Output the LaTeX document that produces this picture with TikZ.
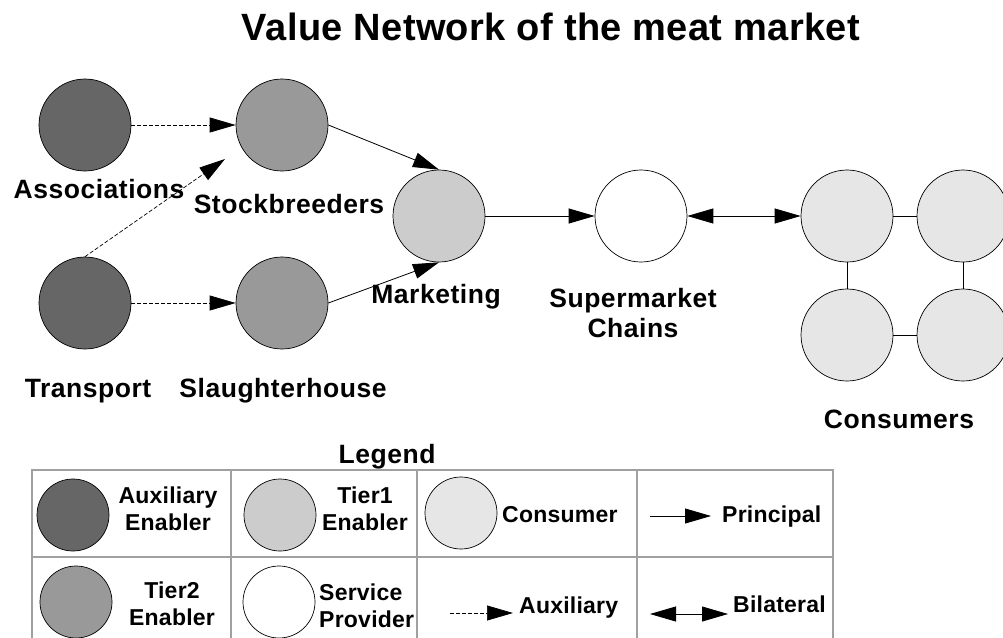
\documentclass[tikz,border=0pt]{standalone}
\usepackage{fontspec}
\setmainfont{Liberation Sans}
\newfontfamily\titlefont{Liberation Sans}[LetterSpace=1]
\newfontfamily\labfont{Liberation Sans}[LetterSpace=2]
\newfontfamily\legfont{Liberation Sans}[LetterSpace=1]
\usetikzlibrary{arrows.meta}
\definecolor{auxc}{HTML}{666666}
\definecolor{ttwoc}{HTML}{999999}
\definecolor{tonec}{HTML}{CCCCCC}
\definecolor{conc}{HTML}{E6E6E6}
\definecolor{gridc}{HTML}{A0A0A0}
\begin{document}
\begin{tikzpicture}[x=1pt,y=-1pt,
  ent/.style={circle,draw=black,line width=0.7pt,inner sep=0pt,minimum size=92pt},
  legc/.style={circle,draw=black,line width=0.7pt,inner sep=0pt,minimum size=72pt},
  lab/.style={font=\labfont\bfseries\fontsize{26.5}{30}\selectfont, anchor=base, inner sep=0pt, align=center},
  leg/.style={font=\legfont\bfseries\fontsize{23}{27}\selectfont, anchor=base, inner sep=0pt, align=center},
  princ/.style={-{Triangle[length=26pt,width=15pt]}, line width=0.8pt},
  auxl/.style={-{Triangle[length=26pt,width=15pt]}, line width=0.7pt, dash pattern=on 4pt off 2pt},
  bil/.style={{Triangle[length=26pt,width=15pt]}-{Triangle[length=26pt,width=15pt]}, line width=0.8pt},
  cline/.style={line width=0.8pt},
  grid/.style={draw=gridc, line width=1.2pt}
]
\useasboundingbox (0,0) rectangle (1003,637);
\clip (0,0) rectangle (1003,637);

% title
\node[font=\titlefont\bfseries\fontsize{38}{42}\selectfont, anchor=base, inner sep=0pt] (title) at (551,40) {Value Network of the meat market};

% entities
\node[ent, fill=auxc] (assoc) at (85,125) {};
\node[ent, fill=auxc] (trans) at (85,303) {};
\node[ent, fill=ttwoc] (stock) at (282,125) {};
\node[ent, fill=ttwoc] (slaugh) at (282,303) {};
\node[ent, fill=tonec] (mark) at (439,216) {};
\node[ent, fill=white] (super) at (641,216) {};
\node[ent, fill=conc] (c1) at (847,216) {};
\node[ent, fill=conc] (c2) at (963,216) {};
\node[ent, fill=conc] (c3) at (847,335) {};
\node[ent, fill=conc] (c4) at (963,335) {};

% labels
\node[lab] (lassoc) at (99,198) {Associations};
\node[lab] (lstock) at (289,213) {Stockbreeders};
\node[lab] (ltrans) at (88,397) {Transport};
\node[lab] (lslaugh) at (283,397) {Slaughterhouse};
\node[lab] (lmark) at (436,303) {Marketing};
\node[lab] (lsuper) at (633,337) {Supermarket\\Chains};
\node[lab] (lcons) at (899,428) {Consumers};

% connectors
\coordinate (tipsb) at (225,159);
\draw[auxl] (assoc) -- (stock);
\draw[auxl] (trans.north) -- (tipsb);
\draw[auxl] (trans) -- (slaugh);
\draw[princ] (stock.east) -- (mark.north);
\draw[princ] (slaugh.east) -- (mark.south);
\draw[princ] (mark) -- (super);
\draw[bil] (super) -- (c1);
\draw[cline] (c1) -- (c2);
\draw[cline] (c1) -- (c3);
\draw[cline] (c2) -- (c4);
\draw[cline] (c3) -- (c4);

% legend
\node[lab] (legtitle) at (387,463) {Legend};
\draw[grid] (32,640) -- (32,470) -- (833,470) -- (833,640);
\draw[grid] (32,557) -- (833,557);
\draw[grid] (231,470) -- (231,640);
\draw[grid] (417,470) -- (417,640);
\draw[grid] (637,470) -- (637,640);

\node[legc, fill=auxc] (lg1) at (73,515) {};
\node[leg] (lt1) at (168,530) {Auxiliary\\Enabler};
\node[legc, fill=tonec] (lg2) at (280,515) {};
\node[leg] (lt2) at (365,530) {Tier1\\Enabler};
\node[legc, fill=conc] (lg3) at (461,513) {};
\node[leg, anchor=base west] (lt3) at (502,522) {Consumer};
\coordinate (pa) at (650,516);
\coordinate (pb) at (711,516);
\draw[princ] (pa) -- (pb);
\node[leg, anchor=base west] (lt4) at (722,522) {Principal};

\node[legc, fill=ttwoc] (lg4) at (76,602) {};
\node[leg] (lt5) at (172,625) {Tier2\\Enabler};
\node[legc, fill=white] (lg5) at (279,602) {};
\node[leg, align=left, anchor=base west] (lt6) at (319,627) {Service\\Provider};
\coordinate (xa) at (450,613);
\coordinate (xb) at (513,613);
\draw[auxl] (xa) -- (xb);
\node[leg, anchor=base west] (lt7) at (519,613) {Auxiliary};
\coordinate (ba) at (650,614);
\coordinate (bb) at (728,614);
\draw[bil] (ba) -- (bb);
\node[leg, anchor=base west] (lt8) at (733,612) {Bilateral};
\end{tikzpicture}
\end{document}
